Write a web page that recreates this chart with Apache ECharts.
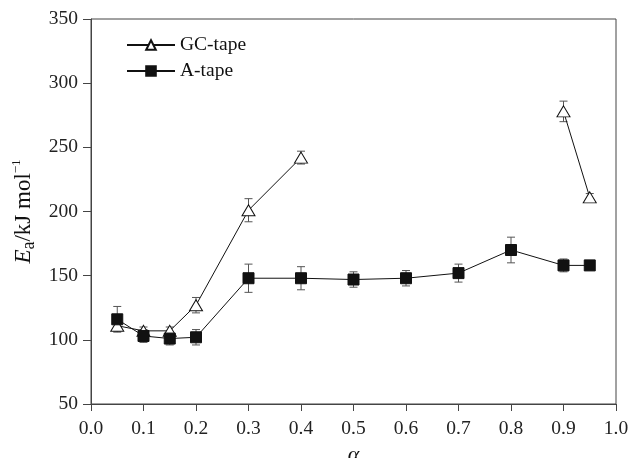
<!DOCTYPE html>
<html>
<head>
<meta charset="utf-8">
<script src="https://cdn.jsdelivr.net/npm/echarts@6/dist/echarts.min.js"></script>
<style>
  html, body { margin: 0; padding: 0; background: #fff; }
  #main { width: 628px; height: 458px; }
</style>
</head>
<body>
<div id="main"></div>
<script>
// conversion degree alpha
var alphaVals = [0.05, 0.1, 0.15, 0.2, 0.3, 0.4, 0.5, 0.6, 0.7, 0.8, 0.9, 0.95];
// Ea values (kJ/mol), null = not measured
var gcTape = [111, 107, 107, 127, 201, 242, null, null, null, null, 278, 211];
var gcErr = [4, 3, 3, 6, 9, 5, null, null, null, null, 8, 3];
var aTape = [116, 103, 101, 102, 148, 148, 147, 148, 152, 170, 158, 158];
var aErr = [10, 5, 5, 6, 11, 9, 6, 6, 7, 10, 5, 0];
var yTicks = [50, 100, 150, 200, 250, 300, 350];

var FONT = 'Liberation Serif';

function pairs(vals) {
	return alphaVals.map(function(x, i) {
		return [x, vals[i] == null ? '-' : vals[i]];
	});
}
function errData(vals, errs) {
	var out = [];
	for (var i = 0; i < alphaVals.length; i++) {
		if (vals[i] == null || !errs[i]) continue;
		out.push([alphaVals[i], vals[i] - errs[i], vals[i] + errs[i]]);
	}
	return out;
}
// 误差棒
function renderErr(params, api) {
	var x = api.value(0);
	var lo = api.coord([x, api.value(1)]);
	var hi = api.coord([x, api.value(2)]);
	var w = 4;
	var st = { stroke: '#555', lineWidth: 1 };
	return {
		type: 'group',
		children: [
			{ type: 'line', shape: { x1: lo[0], y1: lo[1], x2: hi[0], y2: hi[1] }, style: st },
			{ type: 'line', shape: { x1: lo[0] - w, y1: lo[1], x2: lo[0] + w, y2: lo[1] }, style: st },
			{ type: 'line', shape: { x1: hi[0] - w, y1: hi[1], x2: hi[0] + w, y2: hi[1] }, style: st }
		]
	};
}

var myChart = echarts.init(document.getElementById('main'));

var option = {
	animation: false,
	textStyle: { fontFamily: FONT },
	grid: {
		left: 91, right: 12, top: 19, bottom: 54,
		outerBoundsMode: 'none',
		show: true, borderColor: '#444', borderWidth: 1
	},
	legend: {
		orient: 'vertical',
		left: 121, top: 30,
		itemWidth: 48, itemHeight: 12, itemGap: 6,
		textStyle: { fontFamily: FONT, fontSize: 19.5, color: '#111' },
		data: ['GC-tape', 'A-tape']
	},
	xAxis: {
		type: 'value',
		min: 0, max: 1, interval: 0.1,
		name: 'α',
		nameLocation: 'middle',
		nameGap: 38,
		nameTextStyle: { fontFamily: FONT, fontSize: 22, fontStyle: 'italic', color: '#111' },
		axisLine: { lineStyle: { color: '#444', width: 1 } },
		axisTick: { show: true, inside: false, length: 7, lineStyle: { color: '#444' } },
		axisLabel: {
			fontFamily: FONT, fontSize: 19.5, color: '#222', margin: 15,
			formatter: function(v) { return v.toFixed(1); }
		},
		splitLine: { show: false }
	},
	yAxis: {
		type: 'value',
		min: yTicks[0], max: yTicks[yTicks.length - 1], interval: 50,
		name: '{i|E}{s|a}{n|/kJ mol}{p|−1}',
		nameLocation: 'middle',
		nameGap: 48,
		nameRotate: 90,
		nameTextStyle: {
			color: '#111',
			rich: {
				i: { fontFamily: FONT, fontSize: 23, fontStyle: 'italic', color: '#111', lineHeight: 28, verticalAlign: 'middle' },
				s: { fontFamily: FONT, fontSize: 18, color: '#111', lineHeight: 28, verticalAlign: 'bottom' },
				n: { fontFamily: FONT, fontSize: 23, color: '#111', lineHeight: 28, verticalAlign: 'middle' },
				p: { fontFamily: FONT, fontSize: 13, color: '#111', lineHeight: 28, verticalAlign: 'top' }
			}
		},
		axisLine: { show: true, lineStyle: { color: '#444', width: 1 } },
		axisTick: { show: true, inside: false, length: 8, lineStyle: { color: '#444' } },
		axisLabel: { fontFamily: FONT, fontSize: 19.5, color: '#222', margin: 13 },
		splitLine: { show: false }
	},
	series: [
		{
			name: 'GC-tape-err',
			type: 'custom',
			renderItem: renderErr,
			encode: { x: 0, y: [1, 2] },
			data: errData(gcTape, gcErr),
			z: 3
		},
		{
			name: 'A-tape-err',
			type: 'custom',
			renderItem: renderErr,
			encode: { x: 0, y: [1, 2] },
			data: errData(aTape, aErr),
			z: 3
		},
		{
			name: 'GC-tape',
			type: 'line',
			data: pairs(gcTape),
			connectNulls: false,
			symbol: 'triangle',
			symbolSize: [13, 11],
			itemStyle: { color: '#fff', borderColor: '#111', borderWidth: 1 },
			lineStyle: { color: '#111', width: 1 },
			z: 4
		},
		{
			name: 'A-tape',
			type: 'line',
			data: pairs(aTape),
			symbol: 'rect',
			symbolSize: 11,
			itemStyle: { color: '#111', borderColor: '#111', borderWidth: 1 },
			lineStyle: { color: '#111', width: 1 },
			z: 4
		}
	]
};

myChart.setOption(option);
</script>
</body>
</html>
